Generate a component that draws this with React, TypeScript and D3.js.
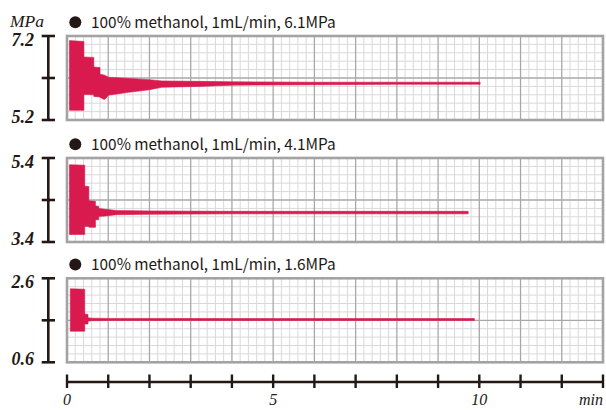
import React from "react";
import * as d3 from "d3";

// ---- data ----
const TITLES = [
  "100% methanol, 1mL/min, 6.1MPa",
  "100% methanol, 1mL/min, 4.1MPa",
  "100% methanol, 1mL/min, 1.6MPa",
];
const Y_DOMAINS: [number, number][] = [
  [5.2, 7.2],
  [3.4, 5.4],
  [0.6, 2.6],
];
const Y_TICK_LABELS = [
  ["5.2", "7.2"],
  ["3.4", "5.4"],
  ["0.6", "2.6"],
];
const X_TICKS = d3.range(0, 14);
const X_LABELS = [
  { t: 0, label: "0" },
  { t: 5, label: "5" },
  { t: 10, label: "10" },
];
const X_UNIT = "min";
const Y_UNIT = "MPa";

// panel 1 (6.1 MPa) envelope of the pressure trace
const P1_T = [0.06, 0.41, 0.41, 0.65, 0.65, 0.8, 0.8, 0.9, 0.95, 1.0, 1.5, 2.0, 2.3, 3.2, 4.0, 6.0, 8.0, 10.02];
const P1_HI = [7.09, 7.07, 6.7, 6.69, 6.46, 6.45, 6.29, 6.27, 6.25, 6.22, 6.19, 6.16, 6.13, 6.12, 6.11, 6.1, 6.1, 6.1];
const P1_LO = [5.43, 5.43, 5.81, 5.8, 5.76, 5.75, 5.74, 5.69, 5.72, 5.79, 5.86, 5.92, 5.98, 6.0, 6.03, 6.04, 6.05, 6.05];

// panel 2 (4.1 MPa)
const P2_T = [0.06, 0.43, 0.43, 0.53, 0.53, 0.69, 0.69, 0.77, 0.77, 0.93, 1.2, 2.0, 4.0, 6.0, 8.0, 9.73];
const P2_HI = [5.24, 5.23, 4.73, 4.72, 4.38, 4.37, 4.26, 4.25, 4.2, 4.18, 4.15, 4.14, 4.13, 4.13, 4.13, 4.13];
const P2_LO = [3.58, 3.58, 3.77, 3.77, 3.75, 3.75, 3.93, 3.93, 4.01, 4.02, 4.05, 4.06, 4.07, 4.07, 4.07, 4.07];

// panel 3 (1.6 MPa)
const P3_T = [0.08, 0.43, 0.43, 0.51, 0.51, 0.6, 1.0, 2.0, 4.0, 6.0, 8.0, 9.88];
const P3_HI = [2.35, 2.34, 1.75, 1.74, 1.66, 1.65, 1.645, 1.645, 1.64, 1.64, 1.64, 1.64];
const P3_LO = [1.34, 1.34, 1.51, 1.51, 1.58, 1.59, 1.595, 1.595, 1.595, 1.595, 1.595, 1.595];

const SERIES = [
  { t: P1_T, hi: P1_HI, lo: P1_LO },
  { t: P2_T, hi: P2_HI, lo: P2_LO },
  { t: P3_T, hi: P3_HI, lo: P3_LO },
];

// ---- layout ----
const W = 606;
const H = 410;
const PLOT_LEFT = 67;
const PLOT_RIGHT = 603;
const PANEL_TOPS = [36, 158, 278.3];
const PANEL_H = 84;
const INK = "#231815";
const TRACE = "#d81a4f";

export default function App() {
  const x = d3.scaleLinear().domain([0, 13]).range([PLOT_LEFT, PLOT_RIGHT]);
  const minorX = d3.range(0, 66).map((k) => k * 0.2);
  const axisY = 382;

  return (
    <div style={{ position: "fixed", left: 0, top: 0 }}>
      <svg width={W} height={H} viewBox={`0 0 ${W} ${H}`} style={{ display: "block", background: "#fff" }}>
        <defs>
          {PANEL_TOPS.map((top, i) => (
            <clipPath id={`clip${i}`} key={i}>
              <rect x={PLOT_LEFT} y={top} width={PLOT_RIGHT - PLOT_LEFT} height={PANEL_H} />
            </clipPath>
          ))}
        </defs>
        <text x={10} y={27} fontFamily="'Liberation Serif', serif" fontStyle="italic" fontSize={17.5} fill={INK}>
          {Y_UNIT}
        </text>
        {PANEL_TOPS.map((top, i) => {
          const y = d3.scaleLinear().domain(Y_DOMAINS[i]).range([top + PANEL_H, top]);
          const [lo, hi] = Y_DOMAINS[i];
          const mid = (lo + hi) / 2;
          const minorY = d3.range(0, 11).map((k) => lo + ((hi - lo) * k) / 10);
          const s = SERIES[i];
          const pts = s.t.map((t, j) => ({ t, hi: s.hi[j], lo: s.lo[j] }));
          const area = d3
            .area<{ t: number; hi: number; lo: number }>()
            .x((d) => x(d.t))
            .y0((d) => y(d.lo))
            .y1((d) => y(d.hi));
          const titleY = top - 13.8;
          return (
            <g key={i}>
              {/* title */}
              <circle cx={75.3} cy={titleY} r={6} fill={INK} />
              <text
                x={91}
                y={titleY + 5.5}
                fontFamily="'Noto Sans CJK JP', 'Noto Sans', sans-serif"
                fontSize={15.4}
                fill={INK}
              >
                {TITLES[i]}
              </text>
              {/* grid */}
              <rect x={PLOT_LEFT} y={top} width={PLOT_RIGHT - PLOT_LEFT} height={PANEL_H} fill="#fff" />
              {minorX.map((t, k) =>
                k % 5 === 0 ? null : (
                  <line key={"vx" + k} x1={x(t)} x2={x(t)} y1={top} y2={top + PANEL_H} stroke="#d9d9d9" strokeWidth={1} />
                )
              )}
              {minorY.map((v, k) =>
                k % 5 === 0 ? null : (
                  <line key={"hy" + k} x1={PLOT_LEFT} x2={PLOT_RIGHT} y1={y(v)} y2={y(v)} stroke="#d9d9d9" strokeWidth={1} />
                )
              )}
              {X_TICKS.map((t) => (
                <line key={"mx" + t} x1={x(t)} x2={x(t)} y1={top} y2={top + PANEL_H} stroke="#a8a8a8" strokeWidth={1.3} />
              ))}
              <line x1={PLOT_LEFT} x2={PLOT_RIGHT} y1={y(mid)} y2={y(mid)} stroke="#a8a8a8" strokeWidth={1.3} />
              {/* trace */}
              <path d={area(pts) || ""} fill={TRACE} stroke={TRACE} strokeWidth={0.6} clipPath={`url(#clip${i})`} />
              <rect
                x={PLOT_LEFT}
                y={top}
                width={PLOT_RIGHT - PLOT_LEFT}
                height={PANEL_H}
                fill="none"
                stroke="#a3a3a3"
                strokeWidth={2.6}
              />
              {/* y axis */}
              <line x1={48.3} x2={48.3} y1={y(hi)} y2={y(lo)} stroke={INK} strokeWidth={2.6} />
              {[hi, mid, lo].map((v, k) => (
                <line key={"yt" + k} x1={41.7} x2={55} y1={y(v)} y2={y(v)} stroke={INK} strokeWidth={2.6} />
              ))}
              <text
                x={34}
                y={y(hi) + 9.5}
                textAnchor="end"
                fontFamily="'Liberation Serif', serif"
                fontStyle="italic"
                fontWeight="bold"
                fontSize={18}
                fill={INK}
              >
                {Y_TICK_LABELS[i][1]}
              </text>
              <text
                x={34}
                y={y(lo) + 2.5}
                textAnchor="end"
                fontFamily="'Liberation Serif', serif"
                fontStyle="italic"
                fontWeight="bold"
                fontSize={18}
                fill={INK}
              >
                {Y_TICK_LABELS[i][0]}
              </text>
            </g>
          );
        })}
        {/* x axis */}
        <line x1={x(0)} x2={x(13)} y1={axisY} y2={axisY} stroke={INK} strokeWidth={2.6} />
        {X_TICKS.map((t) => (
          <line key={"xt" + t} x1={x(t)} x2={x(t)} y1={374.5} y2={388} stroke={INK} strokeWidth={2.4} />
        ))}
        {X_LABELS.map((d) => (
          <text
            key={d.label}
            x={x(d.t)}
            y={405}
            textAnchor="middle"
            fontFamily="'Liberation Serif', serif"
            fontStyle="italic"
            fontSize={16}
            fill={INK}
          >
            {d.label}
          </text>
        ))}
        <text
          x={603}
          y={405}
          textAnchor="end"
          fontFamily="'Liberation Serif', serif"
          fontStyle="italic"
          fontSize={16}
          fill={INK}
        >
          {X_UNIT}
        </text>
      </svg>
    </div>
  );
}
